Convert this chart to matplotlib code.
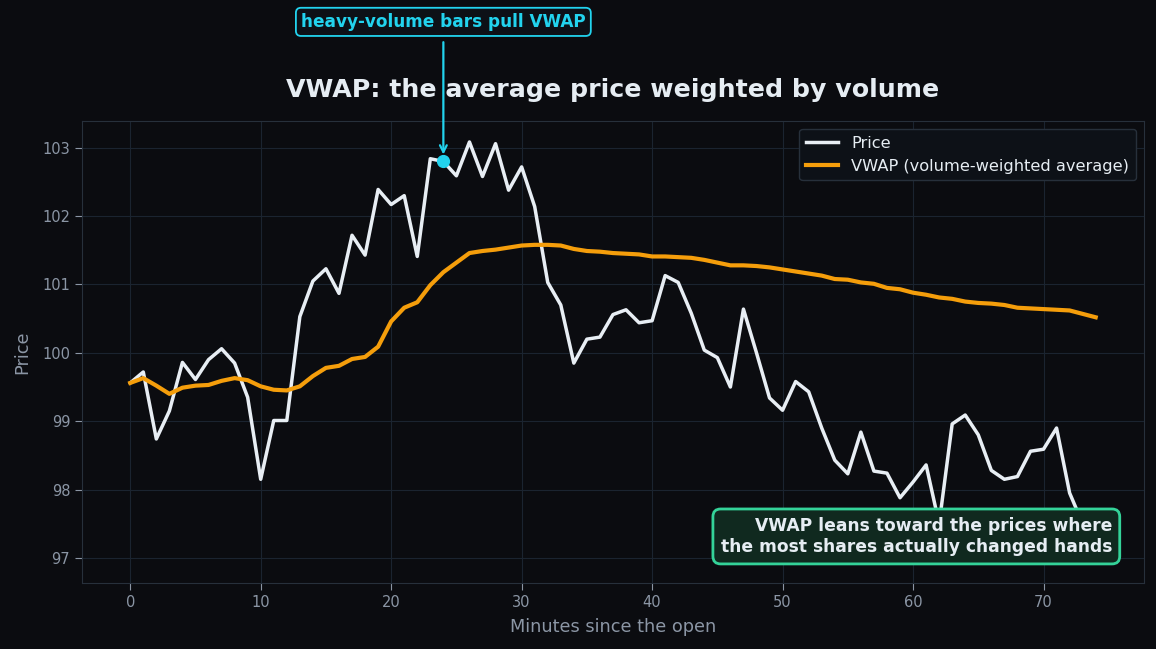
import matplotlib
matplotlib.use("Agg")
import matplotlib.pyplot as plt

minutes = list(range(75))
price = [99.56, 99.72, 98.74, 99.15, 99.86, 99.61, 99.90, 100.06, 99.85, 99.35,
         98.15, 99.01, 99.01, 100.53, 101.05, 101.23, 100.87, 101.72, 101.43, 102.39,
         102.17, 102.30, 101.41, 102.84, 102.80, 102.59, 103.085, 102.58, 103.06, 102.38,
         102.72, 102.14, 101.03, 100.70, 99.85, 100.20, 100.23, 100.56, 100.63, 100.44,
         100.47, 101.13, 101.03, 100.58, 100.04, 99.93, 99.50, 100.64, 100.00, 99.34,
         99.16, 99.58, 99.43, 98.90, 98.43, 98.23, 98.84, 98.27, 98.24, 97.88,
         98.11, 98.36, 97.50, 98.96, 99.09, 98.80, 98.28, 98.15, 98.19, 98.56,
         98.59, 98.90, 97.95, 97.50, 96.94]
vwap = [99.56, 99.63, 99.52, 99.40, 99.49, 99.52, 99.53, 99.59, 99.63, 99.60,
        99.51, 99.46, 99.45, 99.51, 99.66, 99.78, 99.81, 99.91, 99.94, 100.09,
        100.46, 100.66, 100.74, 100.99, 101.18, 101.32, 101.46, 101.49, 101.51, 101.54,
        101.57, 101.58, 101.58, 101.57, 101.52, 101.49, 101.48, 101.46, 101.45, 101.44,
        101.41, 101.41, 101.40, 101.39, 101.36, 101.32, 101.28, 101.28, 101.27, 101.25,
        101.22, 101.19, 101.16, 101.13, 101.08, 101.07, 101.03, 101.01, 100.95, 100.93,
        100.88, 100.85, 100.81, 100.79, 100.75, 100.73, 100.72, 100.70, 100.66, 100.65,
        100.64, 100.63, 100.62, 100.57, 100.52]
highlight_x = 24
highlight_y = 102.80

BG = "#0b0c10"
GRID = "#1b2430"
SPINE = "#27303b"
TICK = "#8b96a5"
TEXT = "#e6edf3"
CYAN = "#22d3ee"
ORANGE = "#f59e0b"
GREEN = "#34d399"

fig = plt.figure(figsize=(11.56, 6.49), dpi=100, facecolor=BG)
ax = fig.add_axes([0.0709, 0.1017, 0.9187, 0.7119])
ax.set_facecolor(BG)

ax.plot(minutes, price, color="#e8eef4", lw=2.5, label="Price", zorder=3)
ax.plot(minutes, vwap, color=ORANGE, lw=3, label="VWAP (volume-weighted average)", zorder=4)
ax.plot([highlight_x], [highlight_y], "o", color=CYAN, ms=8.5, zorder=5)

ax.grid(True, color=GRID, lw=0.8)
ax.set_axisbelow(True)
for s in ax.spines.values():
    s.set_color(SPINE)
ax.tick_params(colors=TICK, labelsize=10.5, length=5, color=TICK)
ax.set_xticks([0, 10, 20, 30, 40, 50, 60, 70])
ax.set_yticks([97, 98, 99, 100, 101, 102, 103])

ax.set_xlabel("Minutes since the open", color=TICK, fontsize=12.8, labelpad=6)
ax.set_ylabel("Price", color=TICK, fontsize=12.8, labelpad=8)
ax.set_title("VWAP: the average price weighted by volume", color=TEXT,
             fontsize=18.2, fontweight="bold", pad=17)

leg = ax.legend(loc="upper right", fontsize=11.7, facecolor="#0d1117",
                edgecolor=SPINE, framealpha=1.0, labelcolor=TEXT,
                handlelength=2.0, borderaxespad=0.5)
leg.set_zorder(10)

ax.annotate("heavy-volume bars pull VWAP", xy=(highlight_x, highlight_y),
            xytext=(0, 100.5), textcoords="offset points", ha="center", va="center",
            color=CYAN, fontsize=12.2, fontweight="bold", annotation_clip=False,
            bbox=dict(boxstyle="round,pad=0.3", fc="#0d1117", ec=CYAN, lw=1.3),
            arrowprops=dict(arrowstyle="->", color=CYAN, lw=1.6, shrinkA=4, shrinkB=5),
            zorder=6)

ax.text(0.9699, 0.058, "VWAP leans toward the prices where\nthe most shares actually changed hands",
        transform=ax.transAxes, ha="right", va="bottom", multialignment="right",
        color=TEXT, fontsize=12.35, fontweight="bold", linespacing=1.25,
        bbox=dict(boxstyle="round,pad=0.45", fc="#10291f", ec=GREEN, lw=2),
        zorder=8)

fig.savefig("out.png", dpi=100, facecolor=BG)
